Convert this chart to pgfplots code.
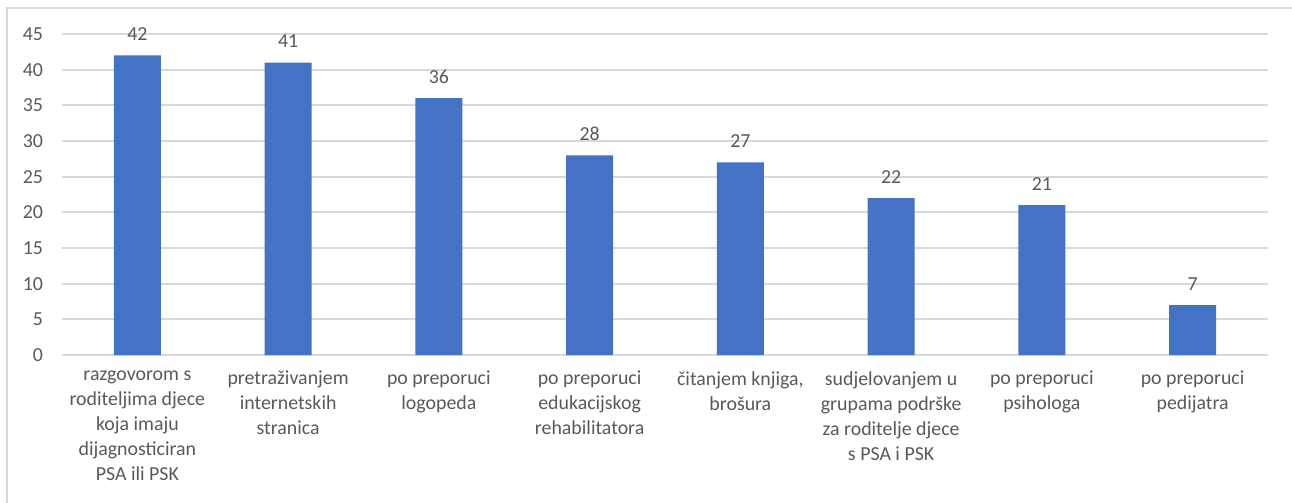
\documentclass[border=0pt]{standalone}
\usepackage{fontspec}
\setmainfont{Carlito}
\usepackage{pgfplots}
\pgfplotsset{compat=1.18}

\definecolor{barblue}{HTML}{4472C4}
\definecolor{gridgray}{HTML}{D9D9D9}
\definecolor{textgray}{HTML}{595959}

\begin{document}
\begin{tikzpicture}
  \begin{axis}[
      name=ax,
      at={(0,0)}, anchor=south west,
      scale only axis,
      width=904.5pt, height=240.75pt,
      ybar, bar width=35.25pt,
      xmin=-0.5, xmax=7.5,
      ymin=0, ymax=45,
      ytick={0,5,...,45},
      xtick=data,
      xticklabels={
        {razgovorom s\\roditeljima djece\\koja imaju\\dijagnosticiran\\PSA ili PSK},
        {pretraživanjem\\internetskih\\stranica},
        {po preporuci\\logopeda},
        {po preporuci\\edukacijskog\\rehabilitatora},
        {čitanjem knjiga,\\brošura},
        {sudjelovanjem u\\grupama podrške\\za roditelje djece\\s PSA i PSK},
        {po preporuci\\psihologa},
        {po preporuci\\pedijatra}},
      axis x line*=bottom,
      axis y line*=left,
      x axis line style={draw=gridgray, line width=1.4pt},
      y axis line style={draw=none},
      ymajorgrids,
      grid style={draw=gridgray, line width=1.4pt},
      major tick length=0pt,
      /pgf/number format/assume math mode=true,
      ticklabel style={font=\fontsize{14.9pt}{18.75pt}\selectfont, text=textgray},
      yticklabel style={anchor=east, inner sep=0pt, xshift=-14pt},
      xticklabel style={anchor=north, inner sep=0pt, yshift=-12pt, align=center},
      nodes near coords,
      every node near coord/.append style={font=\fontsize{14.9pt}{18.75pt}\selectfont,
        text=textgray, anchor=south, inner sep=0pt, yshift=11pt},
      clip=false,
    ]
    \addplot[fill=barblue, draw=none] coordinates {
      (0,42) (1,41) (2,36) (3,28) (4,27) (5,22) (6,21) (7,7)};
  \end{axis}
  \draw[gridgray, line width=1.5pt] (-41.25pt,-111pt) -- (-41.25pt,260.25pt) -- (922.5pt,260.25pt);
  \pgfresetboundingbox
  \useasboundingbox (-46.5pt,-111pt) rectangle (922.5pt,266.25pt);
\end{tikzpicture}
\end{document}
